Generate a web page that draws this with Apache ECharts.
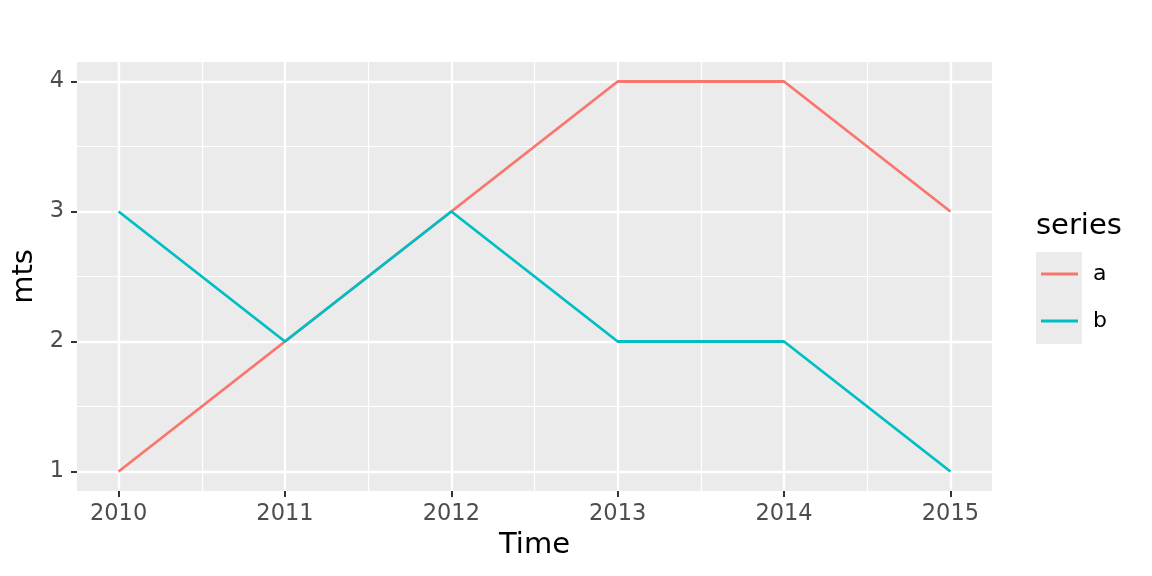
<!DOCTYPE html>
<html>
<head>
<meta charset="utf-8">
<script src="https://cdn.jsdelivr.net/npm/echarts@6/dist/echarts.min.js"></script>
<style>
  html, body { margin: 0; padding: 0; background: #fff; }
  #chart { width: 1152px; height: 576px; }
</style>
</head>
<body>
<div id="chart"></div>
<script>
// data
const years = [2010, 2011, 2012, 2013, 2014, 2015];
const seriesA = [1, 2, 3, 4, 4, 3];
const seriesB = [3, 2, 3, 2, 2, 1];
const yTicks = [1, 2, 3, 4];
const xMinor = [2010.5, 2011.5, 2012.5, 2013.5, 2014.5];
const yMinor = [1.5, 2.5, 3.5];

const font = 'DejaVu Sans';
const chart = echarts.init(document.getElementById('chart'));

const pairs = (vals) => years.map((y, i) => [y, vals[i]]);

const majorLine = { show: true, lineStyle: { color: '#ffffff', width: 2.3 } };
const minorLine = { show: true, lineStyle: { color: '#ffffff', width: 1.2 } };

const option = {
  animation: false,
  textStyle: { fontFamily: font },
  grid: {
    left: 77, right: 160, top: 62, bottom: 85,
    show: true, backgroundColor: '#EBEBEB', borderWidth: 0
  },
  xAxis: [
    {
      type: 'value', min: 2009.75, max: 2015.25,
      name: 'Time', nameLocation: 'middle', nameGap: 40,
      nameTextStyle: { fontSize: 29, color: '#000', fontFamily: font },
      axisLine: { show: false },
      axisTick: { show: true, length: 6, customValues: years, lineStyle: { color: '#333', width: 2 } },
      axisLabel: {
        customValues: years, fontSize: 22.5, color: '#4D4D4D', margin: 12, fontFamily: font,
        formatter: (v) => String(v)
      },
      splitLine: majorLine,
      z: 1
    },
    {
      type: 'value', min: 2009.75, max: 2015.25, position: 'bottom',
      axisLine: { show: false },
      axisTick: { show: false, customValues: xMinor },
      axisLabel: { show: false, customValues: xMinor },
      splitLine: minorLine,
      z: 0
    }
  ],
  yAxis: [
    {
      type: 'value', min: 0.85, max: 4.15,
      name: 'mts', nameLocation: 'middle', nameGap: 33,
      nameTextStyle: { fontSize: 29, color: '#000', fontFamily: font },
      axisLine: { show: false },
      axisTick: { show: true, length: 6, customValues: yTicks, lineStyle: { color: '#333', width: 2 } },
      axisLabel: { customValues: yTicks, fontSize: 22.5, color: '#4D4D4D', margin: 13, fontFamily: font },
      splitLine: majorLine,
      z: 1
    },
    {
      type: 'value', min: 0.85, max: 4.15, position: 'left',
      axisLine: { show: false },
      axisTick: { show: false, customValues: yMinor },
      axisLabel: { show: false, customValues: yMinor },
      splitLine: minorLine,
      z: 0
    }
  ],
  title: {
    text: 'series', left: 1031, top: 207,
    textStyle: { fontSize: 29, fontWeight: 'normal', color: '#000', fontFamily: font }
  },
  legend: {
    orient: 'vertical', left: 1041, top: 263, padding: 0,
    icon: 'rect', itemWidth: 37, itemHeight: 3, itemGap: 25,
    textStyle: { fontSize: 22, color: '#000', fontFamily: font, padding: [0, 0, 0, 10], lineHeight: 22 },
    data: ['a', 'b']
  },
  graphic: [
    { type: 'rect', left: 1036, top: 252, shape: { width: 46, height: 92 }, style: { fill: '#EBEBEB' }, z: -1 }
  ],
  series: [
    {
      name: 'a', type: 'line', data: pairs(seriesA), symbol: 'none',
      lineStyle: { color: '#F8766D', width: 2.8 }, itemStyle: { color: '#F8766D' }, z: 3
    },
    {
      name: 'b', type: 'line', data: pairs(seriesB), symbol: 'none',
      lineStyle: { color: '#00BFC4', width: 2.8 }, itemStyle: { color: '#00BFC4' }, z: 3
    }
  ]
};

chart.setOption(option);
window.addEventListener('resize', () => chart.resize());
</script>
</body>
</html>
